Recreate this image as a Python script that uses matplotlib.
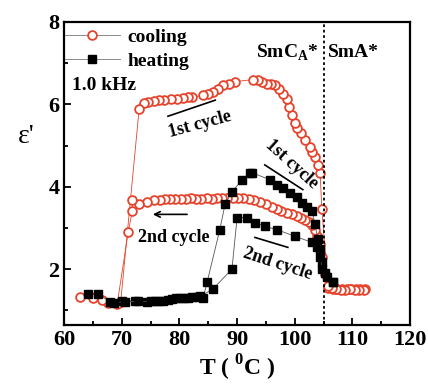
import numpy as np
import matplotlib
matplotlib.use("Agg")
import matplotlib.pyplot as plt
from matplotlib.ticker import MultipleLocator

# Data
# cooling, 1st cycle
c1_T = [112.2, 111.4, 110.6, 109.8, 109.0, 108.2, 107.4, 106.6, 105.8,
        104.7, 104.4, 104.0, 103.5, 103.0, 102.6, 101.8, 101.0, 100.4, 100.0,
        99.5, 99.0, 98.6, 98.0, 97.3, 96.6, 95.9, 95.2, 94.4, 93.6, 92.8,
        89.6, 88.6, 87.6, 86.7, 85.8, 84.9, 84.0, 82.2, 81.5, 80.6, 79.6,
        78.5, 77.4, 76.4, 75.5, 74.6, 73.8, 73.0, 69.8]
c1_e = [1.52, 1.52, 1.52, 1.53, 1.52, 1.51, 1.52, 1.53, 1.54,
        3.45, 4.34, 4.53, 4.72, 4.84, 4.96, 5.13, 5.30, 5.42, 5.54,
        5.73, 5.93, 6.14, 6.26, 6.36, 6.46, 6.50, 6.50, 6.55, 6.58, 6.60,
        6.55, 6.50, 6.46, 6.36, 6.30, 6.26, 6.22, 6.17, 6.17, 6.15, 6.14,
        6.12, 6.10, 6.10, 6.07, 6.05, 6.03, 5.88, 1.20]

# cooling, 2nd cycle
c2_T = [112.0, 111.2, 110.4, 109.6, 108.8, 108.0, 107.2, 106.4, 105.8,
        105.2, 104.8, 104.3, 103.8, 103.5, 103.0, 102.4, 101.8, 101.1, 100.4,
        99.5, 98.6, 97.7, 96.9, 96.0, 95.0, 94.0, 93.0, 92.0, 91.0, 90.1,
        89.2, 88.3, 87.4, 86.5, 85.6, 84.7, 83.8, 82.9, 82.0, 81.1, 80.2,
        79.3, 78.4, 77.5, 76.6, 75.6, 74.4, 73.0, 71.8, 71.8, 71.1, 69.2,
        67.6, 66.6, 65.0, 62.8]
c2_e = [1.50, 1.49, 1.50, 1.51, 1.50, 1.50, 1.52, 1.55, 1.60,
        1.88, 2.30, 2.60, 2.80, 2.96, 3.08, 3.14, 3.20, 3.24, 3.28,
        3.33, 3.37, 3.41, 3.45, 3.52, 3.58, 3.64, 3.68, 3.70, 3.72, 3.72,
        3.73, 3.72, 3.72, 3.72, 3.71, 3.72, 3.71, 3.71, 3.72, 3.71, 3.71,
        3.70, 3.70, 3.70, 3.69, 3.68, 3.64, 3.57, 3.69, 3.40, 2.90, 1.16,
        1.18, 1.25, 1.30, 1.33]

# heating, 1st cycle
h1_T = [64.2, 65.9, 68.0, 70.0, 72.3, 74.4, 75.8, 77.2, 78.7, 80.1, 81.5,
        83.0, 84.1, 84.8, 87.0, 87.9, 89.1, 90.9, 92.2, 92.6, 95.7, 96.9,
        98.0, 99.2, 100.4, 101.2, 102.1, 103.0, 103.5, 104.0, 104.4, 104.7,
        105.3, 106.6]
h1_e = [1.40, 1.40, 1.20, 1.23, 1.23, 1.21, 1.23, 1.24, 1.28, 1.30, 1.31,
        1.33, 1.30, 1.69, 2.96, 3.57, 3.88, 4.17, 4.34, 4.34, 4.17, 4.05,
        3.98, 3.85, 3.74, 3.60, 3.50, 3.40, 3.10, 2.73, 2.48, 2.17,
        1.90, 1.69]

# heating, 2nd cycle
h2_T = [68.6, 70.6, 72.8, 75.0, 76.5, 78.0, 79.4, 80.8, 82.2, 83.6, 85.8,
        89.1, 90.0, 91.7, 93.1, 94.8, 96.9, 100.0, 103.0, 103.8, 104.4,
        104.8, 105.6, 106.6]
h2_e = [1.19, 1.21, 1.22, 1.22, 1.24, 1.26, 1.29, 1.30, 1.32, 1.34, 1.52,
        2.00, 3.25, 3.25, 3.13, 3.04, 2.96, 2.80, 2.65, 2.53, 2.30,
        2.00, 1.80, 1.69]

red = '#e5432b'
serif = ['Liberation Serif', 'DejaVu Serif']
plt.rcParams['font.family'] = serif
plt.rcParams['font.weight'] = 'bold'
plt.rcParams['mathtext.fontset'] = 'custom'
plt.rcParams['mathtext.rm'] = 'Liberation Serif:bold'

fig = plt.figure(figsize=(4.28, 3.9), dpi=100)
ax = fig.add_axes([0.150, 0.167, 0.808, 0.777])

ckw = dict(color=red, lw=0.6, marker='o', ms=6.3, mfc='white', mec=red, mew=1.3)
hkw = dict(color='#555555', lw=0.6, marker='s', ms=5.8, mfc='black', mec='black')

ax.plot(c1_T, c1_e, label='cooling', **ckw)
ax.plot(c2_T, c2_e, **ckw)
ax.plot(h1_T, h1_e, label='heating', **hkw)
ax.plot(h2_T, h2_e, **hkw)

ax.axvline(105, color='black', ls=(0, (1.5, 1.5)), lw=1.3)

ax.set_xlim(60, 120)
ax.set_ylim(0.65, 8)
ax.xaxis.set_major_locator(MultipleLocator(10))
ax.xaxis.set_minor_locator(MultipleLocator(5))
ax.yaxis.set_major_locator(MultipleLocator(2))
ax.yaxis.set_minor_locator(MultipleLocator(1))
ax.tick_params(which='both', direction='in', labelsize=16, width=1.3)
ax.tick_params(which='major', length=5)
ax.tick_params(which='minor', length=3)
for sp in ax.spines.values():
    sp.set_linewidth(1.6)
ax.set_yticks([2, 4, 6, 8])

ax.set_xlabel(r'T ( $^{0}$C )', fontsize=17, fontweight='bold', labelpad=2)
ax.set_ylabel("ε'", fontsize=20, rotation=0, labelpad=12, fontweight='normal')
ax.yaxis.set_label_coords(-0.11, 0.58)

leg = ax.legend(loc='upper left', frameon=False, fontsize=14, handlelength=2.8,
                borderaxespad=0.0, bbox_to_anchor=(-0.02, 1.005), handletextpad=0.4,
                labelspacing=0.35)
for h in leg.legend_handles:
    h.set_color('#777777')

ax.text(61.3, 6.46, '1.0 kHz', fontsize=14, va='center')
ax.text(93.2, 7.25, r'SmC$_{\mathrm{A}}$*', fontsize=14, va='center')
ax.text(105.8, 7.25, 'SmA*', fontsize=14, va='center')

# cycle annotations
ax.text(83.6, 5.52, '1st cycle', fontsize=13, rotation=15, ha='center', va='center')
ax.plot([78.0, 86.2], [5.71, 6.10], color='black', lw=1.2)
ax.text(99.4, 4.55, '1st cycle', fontsize=13, rotation=-42, ha='center', va='center')
ax.plot([94.8, 101.4], [4.53, 3.93], color='black', lw=1.2)
ax.annotate('', xy=(74.9, 3.33), xytext=(81.8, 3.33),
            arrowprops=dict(arrowstyle='->', color='black', lw=1.2))
ax.text(79.0, 2.77, '2nd cycle', fontsize=13, ha='center', va='center')
ax.text(97.0, 2.12, '2nd cycle', fontsize=13, rotation=-18, ha='center', va='center')
ax.plot([93.1, 98.8], [2.77, 2.53], color='black', lw=1.2)

fig.savefig('out.png', dpi=100)
